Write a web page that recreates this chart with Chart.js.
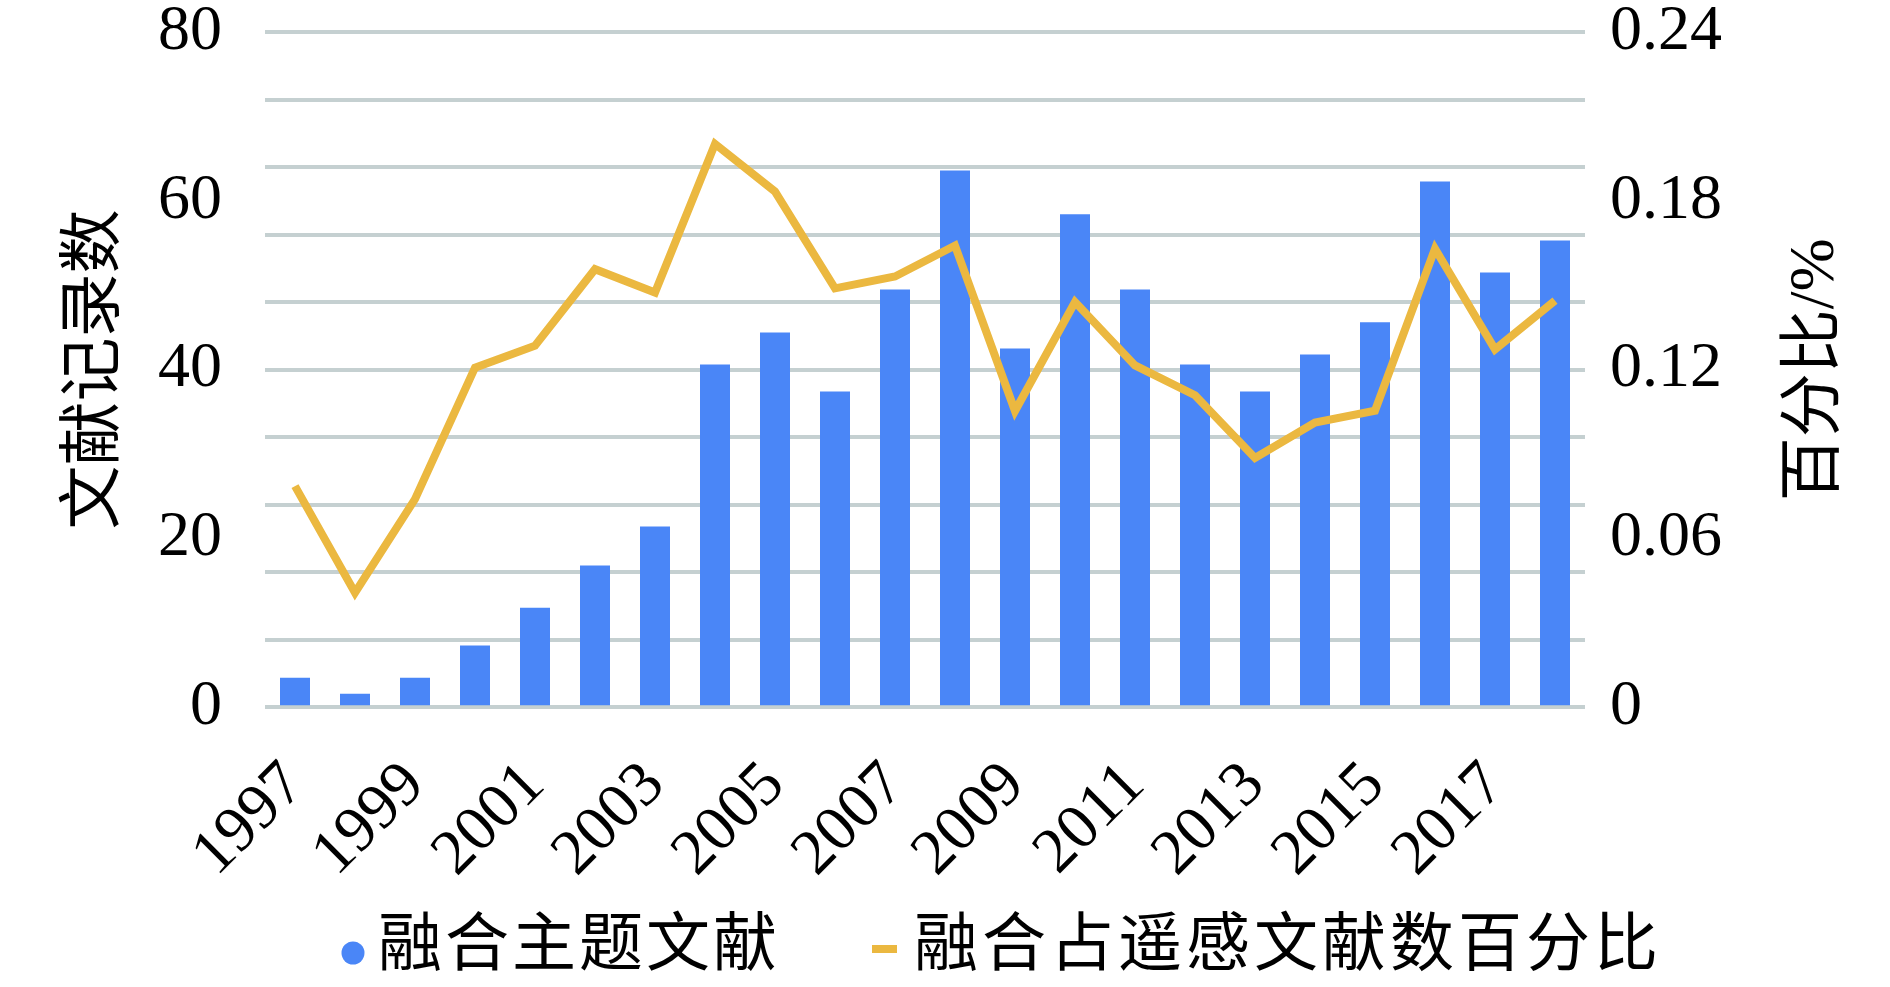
<!DOCTYPE html>
<html>
<head>
<meta charset="utf-8">
<script src="https://cdn.jsdelivr.net/npm/chart.js@4.4.0/dist/chart.umd.min.js"></script>
<style>
  html, body { margin: 0; padding: 0; background: #fff; }
  #wrap { width: 1890px; height: 987px; }
</style>
</head>
<body>
<div id="wrap"><canvas id="chart"></canvas></div>
<script>
// data
const years = ['1997', '1998', '1999', '2000', '2001', '2002', '2003', '2004', '2005', '2006', '2007',
               '2008', '2009', '2010', '2011', '2012', '2013', '2014', '2015', '2016', '2017', '2018'];
const docCounts = [3.5, 1.6, 3.5, 7.3, 11.8, 16.8, 21.4, 40.6, 44.4, 37.4, 49.5,
                   63.6, 42.5, 58.4, 49.5, 40.6, 37.4, 41.8, 45.6, 62.3, 51.5, 55.3];
const docShares = [0.0786, 0.0407, 0.0740, 0.1207, 0.1285, 0.1557, 0.1474, 0.2002, 0.1833, 0.1489, 0.1531,
                   0.1641, 0.1053, 0.1440, 0.1215, 0.1109, 0.0886, 0.1012, 0.1054, 0.1630, 0.1272, 0.1445];
const leftTicks = [0, 20, 40, 60, 80];
const rightTicks = [0, 0.06, 0.12, 0.18, 0.24];
const gridValues = [0, 8, 16, 24, 32, 40, 48, 56, 64, 72, 80];

const FONT = "'Liberation Serif', 'Noto Sans CJK SC', serif";
Chart.defaults.font.family = FONT;
Chart.defaults.font.size = 64;
Chart.defaults.color = '#000';

// right title reads bottom-to-top like the left one
const rightTitle = {
  id: 'rightTitle',
  afterDraw(chart) {
    const ctx = chart.ctx;
    const area = chart.chartArea;
    ctx.save();
    ctx.translate(chart.scales.y1.right - 74, (area.top + area.bottom) / 2);
    ctx.rotate(-Math.PI / 2);
    ctx.font = '64px ' + FONT;
    ctx.fillStyle = '#000';
    ctx.textAlign = 'center';
    ctx.textBaseline = 'middle';
    ctx.fillText('百分比/%', 0, 0);
    ctx.restore();
  }
};

// legend drawn by hand: the original spaces its two entries wider than Chart.js does
const legendRow = {
  id: 'legendRow',
  afterDraw(chart) {
    const ctx = chart.ctx;
    const [bars, line] = chart.data.datasets;
    const y = chart.height - 39;
    ctx.save();
    ctx.fillStyle = bars.backgroundColor;
    ctx.beginPath();
    ctx.arc(353, y + 5, 11.5, 0, Math.PI * 2);
    ctx.fill();
    ctx.strokeStyle = line.borderColor;
    ctx.lineWidth = 8;
    ctx.beginPath();
    ctx.moveTo(872, y + 1);
    ctx.lineTo(897, y + 1);
    ctx.stroke();
    ctx.font = '64px ' + FONT;
    ctx.fillStyle = '#000';
    ctx.textBaseline = 'middle';
    ctx.letterSpacing = '3px';
    ctx.fillText(bars.label, 378, y);
    ctx.letterSpacing = '4px';
    ctx.fillText(line.label, 914, y);
    ctx.restore();
  }
};

var ctx = document.getElementById('chart');

new Chart(ctx, {
  data: {
    labels: years,
    datasets: [{
      type: 'bar',
      label: '融合主题文献',
      data: docCounts,
      yAxisID: 'y',
      backgroundColor: '#4a86f7',
      barPercentage: 0.5,
      categoryPercentage: 1.0,
      order: 2
    }, {
      type: 'line',
      label: '融合占遥感文献数百分比',
      data: docShares,
      yAxisID: 'y1',
      borderColor: '#ebb840',
      backgroundColor: '#ebb840',
      borderWidth: 8,
      pointRadius: 0,
      tension: 0,
      order: 1
    }]
  },
  options: {
    responsive: true,
    maintainAspectRatio: false,
    animation: false,
    layout: { padding: { top: 0, bottom: 54, left: 0, right: 0 } },
    plugins: {
      tooltip: { enabled: false },
      legend: { display: false }
    },
    scales: {
      x: {
        grid: { display: false, drawTicks: false },
        border: { display: false },
        ticks: {
          autoSkip: false,
          maxRotation: 45,
          minRotation: 45,
          padding: 45,
          font: { size: 64, lineHeight: 1 },
          callback: (v, i) => (i % 2 === 0 ? years[i] : '')
        }
      },
      y: {
        position: 'left',
        min: 0,
        max: 80,
        afterBuildTicks: axis => {
          const vals = [...new Set(gridValues.concat(leftTicks))].sort((a, b) => a - b);
          axis.ticks = vals.map(v => ({ value: v }));
        },
        afterFit: axis => { axis.width = 265; },
        grid: {
          color: c => (gridValues.includes(c.tick.value) ? '#c5d0d1' : 'rgba(0,0,0,0)'),
          lineWidth: 4,
          tickLength: 43,
          tickColor: 'rgba(0,0,0,0)'
        },
        border: { display: false },
        ticks: {
          autoSkip: false,
          padding: 0,
          font: { size: 64, lineHeight: 1 },
          callback: v => (leftTicks.includes(v) ? v : '')
        },
        title: {
          display: true,
          text: '文献记录数',
          font: { size: 64, lineHeight: 1.2 },
          padding: { top: 58, bottom: 24 }
        }
      },
      y1: {
        position: 'right',
        min: 0,
        max: 0.24,
        afterBuildTicks: axis => {
          axis.ticks = rightTicks.map(v => ({ value: v }));
        },
        afterFit: axis => { axis.width = 305; },
        grid: { display: false, tickLength: 25 },
        border: { display: false },
        ticks: {
          autoSkip: false,
          padding: 0,
          font: { size: 64, lineHeight: 1 },
          callback: v => (v === 0 ? '0' : v.toFixed(2))
        }
      }
    }
  },
  plugins: [rightTitle, legendRow]
});
</script>
</body>
</html>
